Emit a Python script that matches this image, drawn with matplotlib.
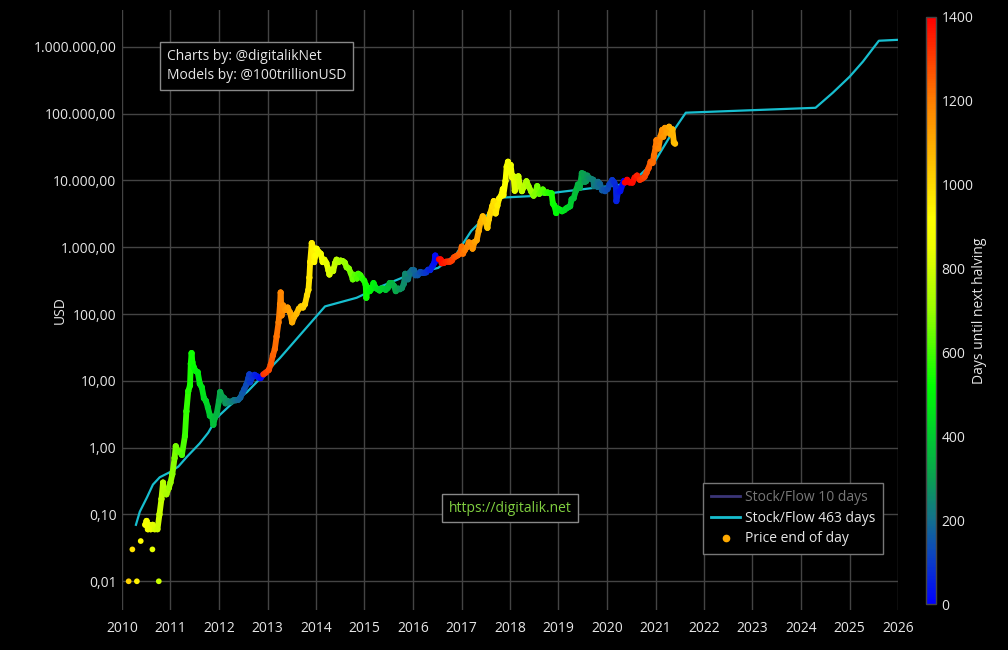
import numpy as np
import pandas as pd
import matplotlib
matplotlib.use('Agg')
import matplotlib.pyplot as plt
import matplotlib.dates as mdates
from matplotlib.collections import LineCollection
from matplotlib.colors import LinearSegmentedColormap, Normalize
from matplotlib.cm import ScalarMappable
from matplotlib.lines import Line2D
from matplotlib.ticker import FixedLocator, FuncFormatter

plt.rcParams['font.family'] = ['Open Sans', 'DejaVu Sans']

halving_dates = ['2012-11-28', '2016-07-09', '2020-05-11', '2024-04-20']

# sparse early prints (not connected)
early_dates = ['2010-02-20', '2010-03-20', '2010-04-23', '2010-05-22', '2010-08-18', '2010-10-05']
early_price = [0.01, 0.03, 0.01, 0.04, 0.03, 0.01]

price_dates = [
    '2010-06-25', '2010-07-05', '2010-07-15', '2010-07-25', '2010-08-05', '2010-08-20',
    '2010-09-05', '2010-09-25', '2010-10-10', '2010-10-25', '2010-11-06', '2010-11-15',
    '2010-12-01', '2010-12-20', '2011-01-01', '2011-01-15', '2011-02-01', '2011-02-10',
    '2011-02-25', '2011-03-10', '2011-03-28', '2011-04-20', '2011-05-01', '2011-05-15',
    '2011-05-28', '2011-06-03', '2011-06-09', '2011-06-15', '2011-06-25', '2011-07-10',
    '2011-07-25', '2011-08-10', '2011-08-25', '2011-09-10', '2011-09-25', '2011-10-10',
    '2011-10-25', '2011-11-10', '2011-11-20', '2011-12-01', '2011-12-15', '2012-01-01',
    '2012-01-10', '2012-01-25', '2012-02-10', '2012-02-20', '2012-03-05', '2012-03-20',
    '2012-04-05', '2012-04-20', '2012-05-05', '2012-05-25', '2012-06-10', '2012-06-25',
    '2012-07-10', '2012-07-25', '2012-08-10', '2012-08-17', '2012-08-22', '2012-09-10',
    '2012-09-25', '2012-10-10', '2012-10-25', '2012-11-10', '2012-11-27', '2012-12-01',
    '2012-12-20', '2013-01-10', '2013-01-25', '2013-02-10', '2013-02-25', '2013-03-10',
    '2013-03-25', '2013-04-05', '2013-04-10', '2013-04-17', '2013-04-28', '2013-05-15',
    '2013-06-01', '2013-06-20', '2013-07-05', '2013-07-20', '2013-08-05', '2013-08-25',
    '2013-09-10', '2013-09-25', '2013-10-10', '2013-10-25', '2013-11-05', '2013-11-12',
    '2013-11-18', '2013-11-30', '2013-12-05', '2013-12-10', '2013-12-18', '2013-12-28',
    '2014-01-05', '2014-01-20', '2014-02-05', '2014-02-20', '2014-03-05', '2014-03-20',
    '2014-04-05', '2014-04-12', '2014-04-25', '2014-05-10', '2014-05-25', '2014-06-05',
    '2014-06-20', '2014-07-05', '2014-07-20', '2014-08-05', '2014-08-20', '2014-09-05',
    '2014-09-20', '2014-10-05', '2014-10-20', '2014-11-05', '2014-11-15', '2014-12-01',
    '2014-12-15', '2014-12-30', '2015-01-10', '2015-01-15', '2015-01-25', '2015-02-10',
    '2015-02-25', '2015-03-10', '2015-03-25', '2015-04-10', '2015-04-25', '2015-05-10',
    '2015-05-25', '2015-06-10', '2015-06-25', '2015-07-10', '2015-07-25', '2015-08-10',
    '2015-08-25', '2015-09-10', '2015-09-25', '2015-10-10', '2015-10-25', '2015-11-04',
    '2015-11-12', '2015-11-25', '2015-12-10', '2015-12-25', '2016-01-10', '2016-01-20',
    '2016-02-05', '2016-02-25', '2016-03-10', '2016-03-25', '2016-04-10', '2016-04-25',
    '2016-05-10', '2016-05-28', '2016-06-10', '2016-06-17', '2016-06-25', '2016-07-08',
    '2016-07-15', '2016-07-28', '2016-08-05', '2016-08-20', '2016-09-05', '2016-09-20',
    '2016-10-05', '2016-10-20', '2016-11-05', '2016-11-20', '2016-12-05', '2016-12-20',
    '2017-01-03', '2017-01-12', '2017-01-25', '2017-02-10', '2017-02-25', '2017-03-10',
    '2017-03-25', '2017-04-10', '2017-04-25', '2017-05-10', '2017-05-25', '2017-06-10',
    '2017-06-25', '2017-07-15', '2017-07-25', '2017-08-05', '2017-08-20', '2017-09-01',
    '2017-09-15', '2017-09-28', '2017-10-12', '2017-10-25', '2017-11-08', '2017-11-12',
    '2017-11-28', '2017-12-07', '2017-12-17', '2017-12-22', '2018-01-06', '2018-01-17',
    '2018-01-28', '2018-02-06', '2018-02-20', '2018-03-05', '2018-03-18', '2018-04-01',
    '2018-04-15', '2018-05-05', '2018-05-20', '2018-06-10', '2018-06-28', '2018-07-10',
    '2018-07-25', '2018-08-10', '2018-08-25', '2018-09-05', '2018-09-20', '2018-10-10',
    '2018-10-25', '2018-11-10', '2018-11-20', '2018-12-01', '2018-12-15', '2018-12-25',
    '2019-01-10', '2019-01-28', '2019-02-15', '2019-02-28', '2019-03-15', '2019-03-30',
    '2019-04-10', '2019-04-25', '2019-05-12', '2019-05-28', '2019-06-10', '2019-06-26',
    '2019-07-10', '2019-07-17', '2019-07-28', '2019-08-06', '2019-08-20', '2019-09-05',
    '2019-09-20', '2019-09-26', '2019-10-10', '2019-10-22', '2019-10-26', '2019-11-10',
    '2019-11-25', '2019-12-10', '2019-12-18', '2020-01-05', '2020-01-20', '2020-02-10',
    '2020-02-25', '2020-03-08', '2020-03-12', '2020-03-25', '2020-04-10', '2020-04-29',
    '2020-05-08', '2020-05-15', '2020-06-01', '2020-06-20', '2020-07-10', '2020-07-28',
    '2020-08-15', '2020-09-05', '2020-09-25', '2020-10-10', '2020-10-25', '2020-11-10',
    '2020-11-25', '2020-12-10', '2020-12-20', '2021-01-02', '2021-01-08', '2021-01-22',
    '2021-02-08', '2021-02-21', '2021-02-28', '2021-03-13', '2021-03-25', '2021-04-13',
    '2021-04-25', '2021-05-08', '2021-05-19', '2021-05-28',
]
price_usd = [
    0.07, 0.08, 0.06, 0.07, 0.06, 0.07,
    0.06, 0.06, 0.1, 0.17, 0.3, 0.22,
    0.2, 0.25, 0.3, 0.4, 0.7, 1.05,
    0.9, 0.87, 0.78, 1.5, 3.5, 7,
    8.5, 18, 26, 19, 16, 14,
    13.5, 9, 8, 5.5, 5, 4,
    3, 2.9, 2.2, 2.8, 3.2, 5,
    6.8, 5.8, 5.5, 4.6, 5, 4.8,
    4.9, 5.1, 5.1, 5.2, 5.6, 6.5,
    7.5, 8.7, 11, 12.5, 9.5, 11.5,
    12.3, 11.8, 11.2, 11, 12.2, 12.5,
    13.3, 14.5, 17.5, 24, 30, 46,
    75, 140, 210, 95, 135, 115,
    125, 105, 75, 90, 100, 120,
    130, 125, 140, 190, 230, 350,
    600, 1150, 1050, 900, 600, 750,
    950, 850, 800, 600, 650, 580,
    450, 390, 460, 440, 580, 650,
    600, 630, 620, 590, 500, 480,
    410, 330, 385, 340, 400, 380,
    340, 315, 275, 175, 250, 220,
    240, 290, 250, 235, 225, 240,
    238, 230, 245, 290, 290, 265,
    220, 240, 235, 245, 285, 400,
    330, 330, 420, 455, 450, 380,
    380, 425, 415, 415, 420, 460,
    455, 525, 580, 750, 640, 670,
    660, 655, 575, 580, 605, 610,
    610, 630, 705, 730, 760, 800,
    1020, 800, 900, 1000, 1180, 1150,
    950, 1200, 1270, 1750, 2400, 2900,
    2550, 1950, 2600, 3200, 4100, 4900,
    3200, 4200, 5400, 5800, 7400, 6000,
    9800, 16000, 19000, 14000, 17000, 11000,
    11500, 7000, 11200, 11500, 8200, 6900,
    8000, 9700, 8200, 6800, 5900, 6400,
    8200, 6300, 6700, 7300, 6500, 6600,
    6450, 6400, 4500, 4200, 3250, 3800,
    3650, 3450, 3600, 3800, 3950, 4100,
    5200, 5400, 7000, 8700, 7700, 12800,
    12500, 9500, 9700, 11800, 10800, 10500,
    10200, 8200, 8600, 8000, 9500, 8800,
    7100, 7300, 6900, 7400, 8700, 10100,
    9300, 8000, 4900, 6700, 6900, 8800,
    9800, 9300, 10200, 9300, 9250, 11000,
    11800, 10200, 10700, 11300, 13000, 15300,
    19000, 18300, 23500, 32000, 40000, 30000,
    46000, 57000, 45000, 61000, 52000, 63500,
    49000, 58000, 37000, 35500,
]

s2f_dates = [
    '2010-04-16', '2010-05-15', '2010-07-08', '2010-08-22', '2010-10-12', '2010-12-28',
    '2011-03-01', '2011-05-05', '2011-08-08', '2011-10-12', '2011-12-16', '2012-03-25',
    '2012-07-31', '2012-11-28', '2013-04-05', '2014-03-10', '2014-11-03', '2015-04-27',
    '2015-12-10', '2016-07-09', '2016-11-24', '2017-03-15', '2017-08-25', '2017-10-15',
    '2018-05-30', '2019-01-10', '2020-04-10', '2020-05-11', '2020-09-05', '2021-01-01',
    '2021-05-10', '2021-08-17', '2024-04-20', '2024-08-28', '2025-01-01', '2025-04-12',
    '2025-08-10', '2026-01-01',
]
s2f_usd = [
    0.07, 0.11, 0.18, 0.28, 0.36, 0.43,
    0.52, 0.73, 1.15, 1.67, 2.8, 4.3,
    6.8, 12, 22, 130, 175, 255,
    390, 490, 800, 1750, 3700, 5500,
    5800, 6700, 8600, 8800, 12000, 20000,
    53000, 103000, 122000, 205000, 355000, 600000,
    1230000, 1270000,
]

y_ticks = [0.01, 0.1, 1, 10, 100, 1e3, 1e4, 1e5, 1e6]
cbar_ticks = [0, 200, 400, 600, 800, 1000, 1200, 1400]


def days_until_halving(dates):
    halvings = pd.to_datetime(halving_dates)
    out = []
    for d in dates:
        nxt = halvings[halvings > d][0]
        out.append((nxt - d).days)
    return np.array(out)


def eu_format(v, pos):
    s = f'{v:,.2f}'
    return s.replace(',', '#').replace('.', ',').replace('#', '.')


cmap = LinearSegmentedColormap.from_list('halving', [
    (0 / 1400, '#0000ff'), (100 / 1400, '#0a3cc8'), (200 / 1400, '#13708c'),
    (300 / 1400, '#0aa050'), (400 / 1400, '#00cc30'), (520 / 1400, '#00ff00'),
    (700 / 1400, '#99ff00'), (850 / 1400, '#eeff00'), (920 / 1400, '#ffff00'),
    (1020 / 1400, '#ffd000'), (1200 / 1400, '#ff8000'), (1400 / 1400, '#ff0000')])
norm = Normalize(0, 1400)

fig = plt.figure(figsize=(10.08, 6.5), dpi=100, facecolor='black')
ax = fig.add_axes([122 / 1008, 1 - 610 / 650, 776 / 1008, 600 / 650])
ax.set_facecolor('black')

grid_c = '#444444'
text_c = '#e6e6e6'

p_dt = pd.to_datetime(price_dates)
p_x = mdates.date2num(p_dt.to_pydatetime())
p_y = np.array(price_usd)
p_days = days_until_halving(p_dt)

e_dt = pd.to_datetime(early_dates)
e_x = mdates.date2num(e_dt.to_pydatetime())
e_days = days_until_halving(e_dt)

s_dt = pd.to_datetime(s2f_dates)
s_x = mdates.date2num(s_dt.to_pydatetime())

ax.set_yscale('log')

ax.plot(s_x, s2f_usd, color='#17becf', lw=1.6, zorder=2)

# price: dense band of daily dots -> thick coloured segments plus dots
segs = np.stack([np.column_stack([p_x[:-1], p_y[:-1]]),
                 np.column_stack([p_x[1:], p_y[1:]])], axis=1)
lc = LineCollection(segs, colors=cmap(norm(p_days[:-1])), linewidths=4.2,
                    capstyle='round', joinstyle='round', zorder=3)
ax.add_collection(lc)
ax.scatter(p_x, p_y, c=p_days, cmap=cmap, norm=norm, s=20, linewidths=0, zorder=4)
ax.scatter(e_x, early_price, c=e_days, cmap=cmap, norm=norm, s=17, linewidths=0, zorder=4)

ax.set_xlim(mdates.date2num(pd.Timestamp('2010-01-01')), mdates.date2num(pd.Timestamp('2026-01-01')))
ax.set_ylim(10 ** -2.43, 10 ** 6.55)

ax.xaxis.set_major_locator(mdates.YearLocator())
ax.xaxis.set_major_formatter(mdates.DateFormatter('%Y'))
ax.yaxis.set_major_locator(FixedLocator(y_ticks))
ax.yaxis.set_minor_locator(FixedLocator([]))
ax.yaxis.set_major_formatter(FuncFormatter(eu_format))
ax.grid(True, color=grid_c, lw=1)
ax.set_axisbelow(True)
for sp in ax.spines.values():
    sp.set_visible(False)
ax.tick_params(colors=text_c, labelsize=10, length=0)
ax.tick_params(axis='x', pad=8)
ax.tick_params(axis='y', pad=4)
ax.set_ylabel('USD', color=text_c, fontsize=10)
ax.yaxis.set_label_coords((68 - 122) / 776, 0.5)

# colorbar
cax = fig.add_axes([926 / 1008, 1 - 604 / 650, 10 / 1008, 587 / 650])
cb = fig.colorbar(ScalarMappable(norm=norm, cmap=cmap), cax=cax, ticks=cbar_ticks)
cb.outline.set_edgecolor('#444444')
cb.outline.set_linewidth(1)
cax.tick_params(colors=text_c, labelsize=10, length=0, pad=4)
cb.set_label('Days until next halving', color=text_c, fontsize=10, labelpad=-1)

# annotation boxes
fig.text(167 / 1008, 1 - 66 / 650, 'Charts by: @digitalikNet\nModels by: @100trillionUSD',
         color=text_c, fontsize=10, ha='left', va='center', linespacing=1.35,
         bbox=dict(boxstyle='square,pad=0.5', fc='black', ec='#888888', lw=1))
fig.text(510 / 1008, 1 - 508 / 650, 'https://digitalik.net', color='#80d040',
         fontsize=10, ha='center', va='center',
         bbox=dict(boxstyle='square,pad=0.5', fc='black', ec='#888888', lw=1))

# legend
handles = [
    Line2D([], [], color='#3b3578', lw=2),
    Line2D([], [], color='#17becf', lw=2),
    Line2D([], [], marker='o', ls='', color='#ffaa00', ms=4.5),
]
labels = ['Stock/Flow 10 days', 'Stock/Flow 463 days', 'Price end of day']
leg = ax.legend(handles, labels, loc='lower right', bbox_to_anchor=(883 / 1008, 1 - 554 / 650),
                bbox_transform=fig.transFigure, fontsize=10, frameon=True, fancybox=False,
                facecolor='black', edgecolor='#777777', framealpha=1, handlelength=2.1,
                handletextpad=0.35, labelspacing=0.4, borderpad=0.55, borderaxespad=0)
leg.get_frame().set_linewidth(1)
for t, c in zip(leg.get_texts(), ['#777777', text_c, text_c]):
    t.set_color(c)

fig.savefig('out.png', dpi=100, facecolor='black')
